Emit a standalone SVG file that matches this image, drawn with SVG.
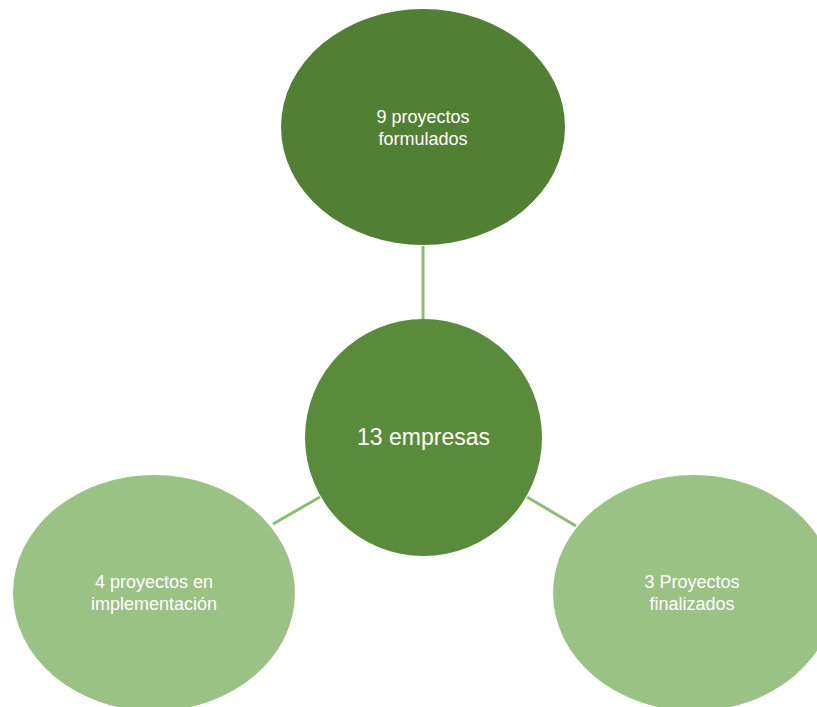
<svg xmlns="http://www.w3.org/2000/svg" width="817" height="707" viewBox="0 0 817 707">
<style>
.lbl{font-family:"Liberation Sans",Arial,sans-serif;fill:#ffffff;text-anchor:middle;}
.s{font-size:18px;}
.b{font-size:23px;}
.conn{stroke:#8DBD70;stroke-width:3;fill:none;}
</style>
<rect width="817" height="707" fill="#ffffff"/>
<g id="connectors">
<line class="conn" x1="423" y1="246" x2="423" y2="320"/>
<line class="conn" x1="320" y1="497" x2="273" y2="524"/>
<line class="conn" x1="527" y1="497" x2="576" y2="526"/>
</g>
<g id="node-top">
<ellipse cx="423" cy="127" rx="142" ry="118" fill="#517F33"/>
<text class="lbl s" x="423" y="123">9 proyectos</text>
<text class="lbl s" x="423" y="145">formulados</text>
</g>
<g id="node-center">
<circle cx="423.5" cy="437.5" r="118.5" fill="#5A8B3A"/>
<text class="lbl b" x="423.5" y="445">13 empresas</text>
</g>
<g id="node-left">
<ellipse cx="154" cy="593" rx="141" ry="118" fill="#9AC285"/>
<text class="lbl s" x="154" y="588">4 proyectos en</text>
<text class="lbl s" x="154" y="610">implementación</text>
</g>
<g id="node-right">
<ellipse cx="694" cy="593" rx="141" ry="118" fill="#9AC285"/>
<text class="lbl s" x="692" y="588">3 Proyectos</text>
<text class="lbl s" x="692" y="610">finalizados</text>
</g>
</svg>
